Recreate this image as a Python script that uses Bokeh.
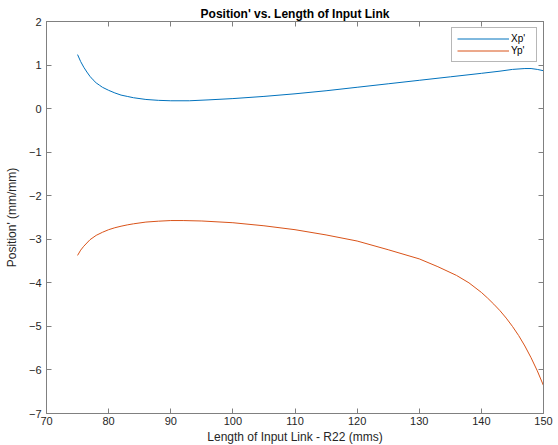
from bokeh.plotting import figure
from bokeh.models import LinearAxis, Range1d, Legend, LegendItem, FixedTicker
from bokeh.embed import file_html
from bokeh.resources import INLINE

title = "Position' vs. Length of Input Link"
x_label = "Length of Input Link - R22 (mms)"
y_label = "Position' (mm/mm)"
x_ticks = [70, 80, 90, 100, 110, 120, 130, 140, 150]
y_ticks = [-7, -6, -5, -4, -3, -2, -1, 0, 1, 2]

xp_x = [75, 75.5, 76, 76.5, 77, 77.5, 78, 78.5, 79, 80, 81, 82, 83, 84, 86, 88,
        90, 93, 96, 100, 105, 110, 115, 120, 125, 130, 135, 140, 143, 145, 147,
        148, 149, 150]
xp_y = [1.24, 1.08, 0.95, 0.84, 0.74, 0.66, 0.59, 0.54, 0.49, 0.42, 0.36, 0.31,
        0.28, 0.25, 0.21, 0.19, 0.18, 0.18, 0.20, 0.23, 0.28, 0.34, 0.41, 0.49,
        0.57, 0.65, 0.73, 0.81, 0.86, 0.90, 0.92, 0.92, 0.90, 0.87]

yp_x = [75, 75.5, 76, 77, 78, 79, 80, 81, 82, 83, 84, 86, 88, 90, 92, 95, 100,
        105, 110, 115, 120, 125, 130, 133, 136, 138, 140, 141, 142, 143, 144,
        145, 146, 147, 148, 149, 150]
yp_y = [-3.37, -3.25, -3.16, -3.01, -2.91, -2.84, -2.78, -2.735, -2.70, -2.67,
        -2.645, -2.605, -2.585, -2.57, -2.57, -2.58, -2.62, -2.69, -2.78, -2.90,
        -3.04, -3.24, -3.45, -3.63, -3.83, -4.00, -4.22, -4.35, -4.49, -4.64,
        -4.81, -5.00, -5.21, -5.45, -5.72, -6.02, -6.36]

FONT = "Liberation Sans"
AX = "#808080"
TXT = "#262626"

p = figure(width=558, height=445, output_backend="svg", toolbar_location=None,
           x_range=Range1d(70, 150), y_range=Range1d(-7, 2),
           min_border_left=46, min_border_right=15, min_border_top=21,
           min_border_bottom=32)
p.frame_width = 497
p.frame_height = 392
p.xgrid.visible = False
p.ygrid.visible = False
p.outline_line_color = AX
p.background_fill_color = "white"
p.border_fill_color = "white"

p.title.text = title
p.title.align = "center"
p.title.text_font = FONT
p.title.text_font_size = "12px"
p.title.text_font_style = "bold"
p.title.text_color = "black"
p.title.offset = 0
p.title.standoff = 1

for ax, ticks, lab in ((p.xaxis[0], x_ticks, x_label), (p.yaxis[0], y_ticks, y_label)):
    ax.ticker = FixedTicker(ticks=ticks)
    ax.axis_label = lab
    ax.axis_label_text_font = FONT
    ax.axis_label_text_font_size = "12px"
    ax.axis_label_text_font_style = "normal"
    ax.axis_label_text_color = TXT
    ax.major_label_text_font = FONT
    ax.major_label_text_font_size = "11px"
    ax.major_label_text_color = TXT
    ax.axis_line_color = AX
    ax.major_tick_line_color = AX
    ax.major_tick_in = 5
    ax.major_tick_out = 0
    ax.minor_tick_line_color = None
p.xaxis[0].major_label_standoff = 3
p.xaxis[0].axis_label_standoff = 2
p.yaxis[0].major_label_standoff = 5
p.yaxis[0].axis_label_standoff = 7

# top and right box ticks: minor ticks only, so no labels are drawn
for side, ticks in (("right", y_ticks), ("above", x_ticks)):
    a = LinearAxis(ticker=FixedTicker(ticks=[], minor_ticks=ticks))
    a.major_label_standoff = 0
    a.axis_line_color = AX
    a.major_tick_line_color = None
    a.minor_tick_line_color = AX
    a.minor_tick_in = 5
    a.minor_tick_out = 0
    p.add_layout(a, side)

r1 = p.line(xp_x, xp_y, line_color="#0072BD", line_width=1)
r2 = p.line(yp_x, yp_y, line_color="#D95319", line_width=1)

legend = Legend(items=[LegendItem(label="Xp'", renderers=[r1]),
                       LegendItem(label="Yp'", renderers=[r2])],
                location="top_right")
legend.label_text_font = FONT
legend.label_text_font_size = "10px"
legend.label_text_color = "black"
legend.glyph_width = 52
legend.glyph_height = 11
legend.label_height = 11
legend.spacing = 1
legend.padding = 5
legend.margin = 6
legend.label_standoff = 2
legend.border_line_color = "#707070"
legend.background_fill_alpha = 1
p.add_layout(legend)

open("out.html", "w").write(file_html(p, INLINE))
